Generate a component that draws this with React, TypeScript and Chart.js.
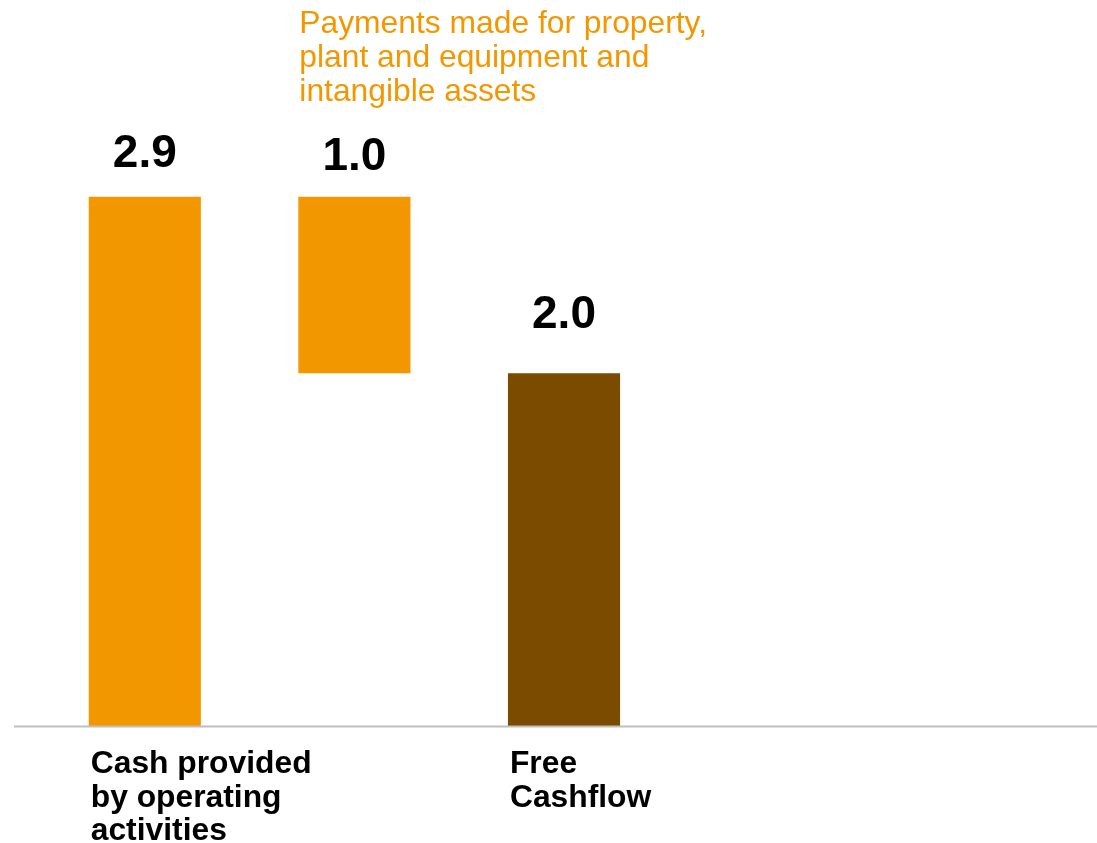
import React, { useEffect, useRef } from "react";
import { Chart, registerables } from "chart.js";

Chart.register(...registerables);

// ---- data ----
const categories = [
  "Cash provided by operating activities",
  "Payments made for property, plant and equipment and intangible assets",
  "Free Cashflow",
  "",
  "",
];
const categoryLines = [
  ["Cash provided", "by operating", "activities"],
  ["Payments made for property,", "plant and equipment and", "intangible assets"],
  ["Free", "Cashflow"],
  [],
  [],
];
const amounts = [2.94, 0.98, 1.96];
const barStarts = [0, 1.96, 0];
const barEnds = [2.94, 2.94, 1.96];

// ---- styles ----
const ORANGE = "rgb(243,151,0)";
const BROWN = "rgb(123,75,0)";
const FONT = '"Liberation Sans", Arial, Helvetica, sans-serif';
const barColors = [ORANGE, ORANGE, BROWN, ORANGE, ORANGE];
const labelGap = [30, 27, 45];

const overlayPlugin = {
  id: "overlay",
  afterDatasetsDraw(chart: any) {
    const ctx = chart.ctx as CanvasRenderingContext2D;
    const meta = chart.getDatasetMeta(0);
    const yScale = chart.scales.y;
    const base = yScale.getPixelForValue(0);
    ctx.save();
    // baseline axis
    ctx.strokeStyle = "#bfbfbf";
    ctx.lineWidth = 2;
    ctx.beginPath();
    ctx.moveTo(14, base + 0.5);
    ctx.lineTo(chart.width, base + 0.5);
    ctx.stroke();

    meta.data.forEach((bar: any, i: number) => {
      if (i >= amounts.length) return;
      const p = bar.getProps(["x", "y", "width", "base"], true);
      const top = Math.min(p.y, p.base);
      const left = p.x - p.width / 2;
      // value label
      ctx.fillStyle = "#000";
      ctx.font = `bold 46px ${FONT}`;
      ctx.textAlign = "center";
      ctx.textBaseline = "alphabetic";
      ctx.fillText(amounts[i].toFixed(1), p.x, top - labelGap[i]);
      // category label
      const lines = categoryLines[i];
      ctx.textAlign = "left";
      if (i === 1) {
        ctx.fillStyle = ORANGE;
        ctx.font = `31.8px ${FONT}`;
        lines.forEach((ln, k) => ctx.fillText(ln, left + 1, 33 + k * 34));
      } else {
        ctx.fillStyle = "#000";
        ctx.font = `bold 31.8px ${FONT}`;
        lines.forEach((ln, k) => ctx.fillText(ln, left + 2, base + 47 + k * 33.5));
      }
    });
    ctx.restore();
  },
};

export default function App() {
  const ref = useRef<HTMLCanvasElement | null>(null);
  useEffect(() => {
    document.body.style.margin = "0";
    const data = categories.map((_, i) =>
      i < barStarts.length ? [barStarts[i], barEnds[i]] : null
    );
    const chart = new Chart(ref.current!, {
      type: "bar",
      data: {
        labels: categories,
        datasets: [
          {
            data: data as any,
            backgroundColor: barColors,
            borderWidth: 0,
            barPercentage: 0.535,
            categoryPercentage: 1,
          },
        ],
      },
      options: {
        animation: false,
        responsive: true,
        maintainAspectRatio: false,
        layout: { padding: { left: 40, right: 9, top: 6, bottom: 117 } },
        plugins: { legend: { display: false }, tooltip: { enabled: false } },
        scales: {
          x: { display: false },
          y: { display: false, min: 0, max: 4 },
        },
      },
      plugins: [overlayPlugin],
    });
    return () => chart.destroy();
  }, []);
  return (
    <div style={{ position: "absolute", left: 0, top: 0, width: 1097, height: 843, background: "#fff" }}>
      <canvas ref={ref} />
    </div>
  );
}
